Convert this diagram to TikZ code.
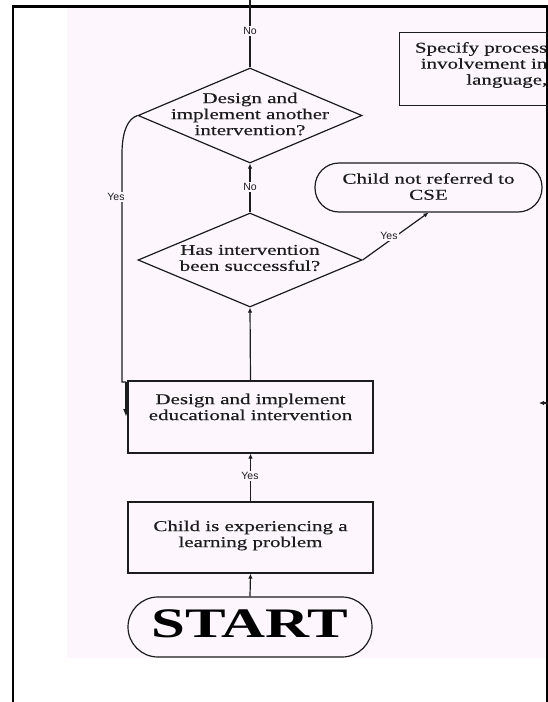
\documentclass[tikz,border=0pt]{standalone}
\usepackage{fontspec}
\setmainfont{Liberation Serif}
\newfontfamily\chartfont[FakeStretch=1.4, FakeBold=0.4]{Liberation Serif}
\newfontfamily\startfont[FakeStretch=1.45]{Liberation Serif}
\newfontfamily\tagfont{Liberation Sans}
\usetikzlibrary{shapes.geometric,arrows.meta}
\definecolor{paper}{RGB}{253,247,253}
\definecolor{ink}{RGB}{28,28,28}

\tikzset{
  flow/.style={draw=ink, line width=1.2pt},
  procbox/.style={flow, rectangle, minimum width=245pt, minimum height=72pt, inner sep=0pt},
  decision/.style={flow, diamond, minimum width=224pt, minimum height=95pt, inner sep=0pt},
  terminal/.style={flow, rectangle, rounded corners=24pt, inner sep=0pt},
  chart/.style={font=\chartfont\fontsize{15}{16}\selectfont, align=center, text=ink, inner sep=0pt},
  tag/.style={font=\tagfont\fontsize{10.5}{11}\selectfont, fill=paper, inner sep=1.5pt, text=ink},
  link/.style={ink, line width=1.2pt, -{Latex[length=5pt,width=4.5pt]}},
}

\begin{document}
\begin{tikzpicture}[x=1pt,y=-1pt]
\useasboundingbox (0,0) rectangle (548,702);
\clip (0,0) rectangle (548,702);
\fill[white] (0,0) rectangle (548,702);
\fill[paper] (67,6) rectangle (548,658);

% page frame
\draw[black, line width=2.2pt] (13,702) -- (13,6.5) -- (548,6.5);
\draw[black, line width=1.8pt] (547,6.5) -- (547,702);

% decisions
\node[decision] (d1) at (250,115.5) {};
\node[chart] (d1t) at (250,114) {Design and\\implement another\\intervention?};
\node[decision, minimum height=94pt] (d2) at (250,260) {};
\node[chart] (d2t) at (250,258) {Has intervention\\been successful?};

% outcome
\node[terminal, minimum width=227pt, minimum height=49pt] (cse) at (428.5,187.5) {};
\node[chart] (cset) at (428.5,186.5) {Child not referred to\\CSE};

% process boxes
\node[procbox] (act) at (250.5,417) {};
\node[chart] (actt) at (250.5,407) {Design and implement\\educational intervention};
\node[procbox, minimum height=71pt] (prob) at (250.5,537.5) {};
\node[chart] (probt) at (250.5,535.5) {Child is experiencing a\\learning problem};

% start terminal
\node[terminal, minimum width=244pt, minimum height=60pt, rounded corners=30pt] (start) at (250,627) {};
\node[font=\startfont\bfseries\fontsize{42}{42}\selectfont, text=black, inner sep=0pt] (startt) at (250,624) {START};

% box on the right
\node[flow, rectangle, minimum width=170pt, minimum height=73pt, anchor=north west, inner sep=0pt] (spec) at (399,32) {};
\node[chart, align=right, anchor=east] (spect) at (547.5,65) {Specify process\\involvement in\\language,};

% connectors
\coordinate (upper) at (250,0);
\draw[flow] (d1.north) -- (upper);
\draw[link] (d2.north) -- (d1.south);
\draw[link] (act.north) -- (d2.south);
\draw[link] (prob.north) -- (act.south);
\draw[link] (start.north) -- (prob.south);
\draw[link] (d2.east) -- (cse.south);

\coordinate (ybend) at (122,152);
\coordinate (yfoot) at (122,382);
\coordinate (yjog) at (126,382);
\coordinate (ytip) at (126,417);
\draw[flow] (d1.west) .. controls (128,119) and (122.5,130) .. (ybend) -- (yfoot) -- (yjog);
\draw[ink, line width=2.2pt, -{Latex[length=8pt,width=6pt]}] (yjog) -- (ytip);

\coordinate (offR) at (556,403);
\coordinate (offTip) at (539,403);
\draw[link] (offR) -- (offTip);

% connector labels
\node[tag] (no1) at (250,31) {No};
\node[tag] (no2) at (250,187) {No};
\node[tag] (yes1) at (116,197) {Yes};
\node[tag] (yes2) at (389,236) {Yes};
\node[tag] (yes3) at (250,476) {Yes};
\end{tikzpicture}
\end{document}
